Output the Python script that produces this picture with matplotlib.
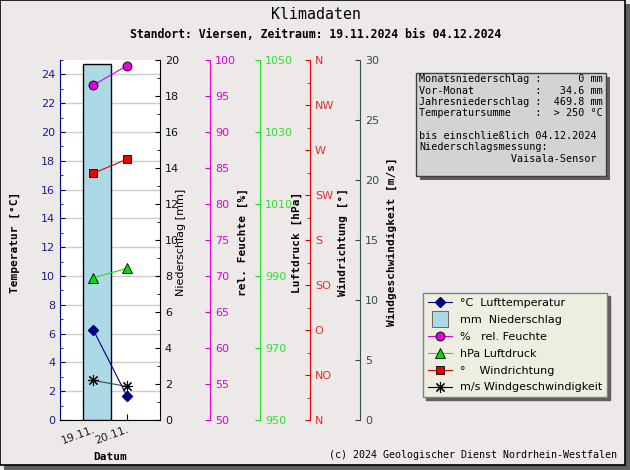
import matplotlib
matplotlib.use('Agg')
import matplotlib.pyplot as plt
from matplotlib.patches import Rectangle
from matplotlib.lines import Line2D
from matplotlib.ticker import MultipleLocator, FixedLocator, NullLocator

# --- data ---
tage = ['19.11.', '20.11.']
temperatur = [6.25, 1.7]          # degC
niederschlag = [19.8]             # mm (bar at first day)
feuchte = [96.5, 99.2]            # %
luftdruck = [989.5, 992.1]        # hPa
windrichtung = [246.7, 260.7]     # deg
windgeschw = [3.3, 2.8]           # m/s

druck_ticks = [950, 970, 990, 1010, 1030, 1050]
richtung_pos = [0, 45, 90, 135, 180, 225, 270, 315, 360]
richtung_lbl = ['N', 'NO', 'O', 'SO', 'S', 'SW', 'W', 'NW', 'N']

info_lines = ['Monatsniederschlag :      0 mm',
              'Vor-Monat          :   34.6 mm',
              'Jahresniederschlag :  469.8 mm',
              'Temperatursumme    :  > 250 \u00b0C',
              '',
              'bis einschlie\u00dflich 04.12.2024',
              'Niederschlagsmessung:',
              '               Vaisala-Sensor']

W, H = 630., 470.
BG = '#ede9e8'
C_T = '#000080'
C_TL = '#1c1c80'
C_F = '#e000e0'
C_P = '#22dd22'
C_R = '#e00000'
C_W = '#2f4f4f'
MONO = 'DejaVu Sans Mono'
STAR = (8, 2, 0)


def fx(x):
    return x / W


def fy(y):
    return 1 - y / H


fig = plt.figure(figsize=(6.3, 4.7), dpi=100, facecolor=BG)

# frame with shadow
fig.add_artist(Rectangle((fx(4), 0), fx(626), 1 - 4 / H, transform=fig.transFigure,
                         facecolor='#5f5f5f', edgecolor='none', zorder=-6))
fig.add_artist(Rectangle((0, fy(465)), fx(625), 465 / H, transform=fig.transFigure,
                         facecolor=BG, edgecolor='black', lw=1.2, zorder=-5))

ax = fig.add_axes([fx(60), fy(420), 100 / W, 360 / H])
ax.set_facecolor('white')
ax.set_xlim(-1, 2)
ax.set_ylim(0, 25)
ax.yaxis.set_major_locator(MultipleLocator(2))
ax.yaxis.set_minor_locator(MultipleLocator(1))
ax.grid(axis='y', color='#cccccc', lw=1)
ax.set_axisbelow(True)
ax.spines['left'].set_color(C_T)
ax.spines['top'].set_visible(False)
ax.spines['right'].set_visible(False)
ax.tick_params(axis='y', which='both', direction='in', color=C_T, labelcolor=C_TL, labelsize=8)
ax.set_xticks(range(len(tage)))
ax.set_xticklabels(tage, rotation=20, ha='right', rotation_mode='anchor', color='#222222', fontsize=8)
ax.tick_params(axis='x', direction='in', length=4)


def twin(pos, color, lo, hi, major, minor=None):
    a = ax.twinx()
    a.set_ylim(lo, hi)
    for s in ['top', 'bottom', 'left']:
        a.spines[s].set_visible(False)
    a.spines['right'].set_position(('axes', pos))
    a.spines['right'].set_color(color)
    a.yaxis.set_major_locator(MultipleLocator(major))
    if minor:
        a.yaxis.set_minor_locator(MultipleLocator(minor))
    a.tick_params(axis='y', which='both', direction='in', color=color, labelsize=8)
    return a


# Niederschlag
ax_n = twin(1.0, 'black', 0, 20, 2, 1)
ax_n.tick_params(axis='y', labelcolor='#111111')
ax_n.bar([0.12], niederschlag, width=0.84, color='#add8e6', edgecolor='black', lw=1)

# rel. Feuchte
ax_f = twin(1.5, C_F, 50, 100, 5)
ax_f.tick_params(axis='y', labelcolor=C_F)
ax_f.plot(range(2), feuchte, color=C_F, lw=0.8, marker='o', ms=6.5,
          mfc=C_F, mec='black', mew=0.6)

# Luftdruck
ax_p = twin(2.0, C_P, 950, 1050, 20)
ax_p.yaxis.set_major_locator(FixedLocator(druck_ticks))
ax_p.tick_params(axis='y', labelcolor='#33dd33')
ax_p.plot(range(2), luftdruck, color=C_P, lw=0.8, marker='^', ms=6.5,
          mfc='#00dd00', mec='black', mew=0.6)

# Windrichtung
ax_r = twin(2.5, C_R, 0, 360, 45)
ax_r.yaxis.set_major_locator(FixedLocator(richtung_pos))
ax_r.yaxis.set_minor_locator(MultipleLocator(22.5))
ax_r.set_yticklabels(richtung_lbl)
ax_r.tick_params(axis='y', labelcolor='#e03030')
ax_r.plot(range(2), windrichtung, color=C_R, lw=0.8, marker='s', ms=5.5,
          mfc='#ee0000', mec='black', mew=0.6)

# Windgeschwindigkeit
ax_w = twin(3.0, C_W, 0, 30, 5)
ax_w.tick_params(axis='y', labelcolor=C_W)
ax_w.plot(range(2), windgeschw, color=C_W, lw=0.8, marker=STAR, ms=8,
          mec='black', mew=0.8)

# Temperatur on top of the bar
ax_t = ax.twinx()
ax_t.set_ylim(0, 25)
ax_t.yaxis.set_major_locator(NullLocator())
for s in ax_t.spines.values():
    s.set_visible(False)
ax_t.plot(range(2), temperatur, color=C_T, lw=0.8, marker='D', ms=5.5, mfc=C_T, mec=C_T)

# axis labels
yc = fy(242)
fig.text(fx(15), yc, 'Temperatur [\u00b0C]', rotation=90, ha='center', va='center',
         family=MONO, weight='bold', fontsize=8)
fig.text(fx(181), yc, 'Niederschlag [mm]', rotation=90, ha='center', va='center', fontsize=8)
fig.text(fx(243), yc, 'rel. Feuchte [%]', rotation=90, ha='center', va='center',
         family=MONO, weight='bold', fontsize=8)
fig.text(fx(297), yc, 'Luftdruck [hPa]', rotation=90, ha='center', va='center',
         family=MONO, weight='bold', fontsize=8)
fig.text(fx(343), yc, 'Windrichtung [\u00b0]', rotation=90, ha='center', va='center',
         family=MONO, weight='bold', fontsize=8)
fig.text(fx(392), yc, 'Windgeschwindigkeit [m/s]', rotation=90, ha='center', va='center',
         family=MONO, weight='bold', fontsize=8)
fig.text(fx(110), fy(457), 'Datum', ha='center', va='center', family=MONO, weight='bold', fontsize=8)

# titles
fig.text(fx(315.5), fy(14.3), 'Klimadaten', ha='center', va='center', family=MONO, fontsize=10.7)
fig.text(fx(315.5), fy(34), 'Standort: Viersen, Zeitraum: 19.11.2024 bis 04.12.2024',
         ha='center', va='center', family=MONO, weight='bold', fontsize=8.3)
fig.text(fx(617), fy(455), '(c) 2024 Geologischer Dienst Nordrhein-Westfalen',
         ha='right', va='center', family=MONO, fontsize=7.2)

# info box
fig.add_artist(Rectangle((fx(420), fy(180)), 190 / W, 103 / H, transform=fig.transFigure,
                         facecolor='#5f5f5f', edgecolor='none', zorder=3))
fig.add_artist(Rectangle((fx(416), fy(176)), 190 / W, 103 / H, transform=fig.transFigure,
                         facecolor='#d3d3d3', edgecolor='#404040', lw=1, zorder=4))
for i, line in enumerate(info_lines):
    fig.text(fx(419), fy(79.5 + 11.3 * i), line, ha='left', va='center',
             family=MONO, fontsize=7.3, zorder=5)

# legend
handles = [
    Line2D([], [], color=C_T, marker='D', ms=5.5, mfc=C_T, lw=0.8),
    Line2D([], [], ls='none', marker='s', ms=11, mfc='#add8e6', mec='#555555', mew=0.6),
    Line2D([], [], color=C_F, marker='o', ms=6.5, mfc=C_F, mec='black', mew=0.6, lw=0.8),
    Line2D([], [], color=C_P, marker='^', ms=6.5, mfc='#00dd00', mec='black', mew=0.6, lw=0.8),
    Line2D([], [], color=C_R, marker='s', ms=5.5, mfc='#ee0000', mec='black', mew=0.6, lw=0.8),
    Line2D([], [], color='black', marker=STAR, ms=8, mec='black', mew=0.8, lw=0.8),
]
labels = ['\u00b0C  Lufttemperatur', 'mm  Niederschlag', '%   rel. Feuchte',
          'hPa Luftdruck', '\u00b0    Windrichtung', 'm/s Windgeschwindigkeit']
leg = fig.legend(handles, labels, loc='upper left', bbox_to_anchor=(fx(423), fy(293)),
                 borderaxespad=0, fontsize=8, frameon=True, fancybox=False,
                 facecolor='#eeeee0', edgecolor='#808080', framealpha=1,
                 shadow={'color': '#5f5f5f', 'alpha': 1}, handlelength=2.2,
                 labelspacing=0.62, borderpad=0.45, handletextpad=0.7)
leg.get_frame().set_linewidth(1)

fig.savefig('out.png', dpi=100, facecolor=BG)
